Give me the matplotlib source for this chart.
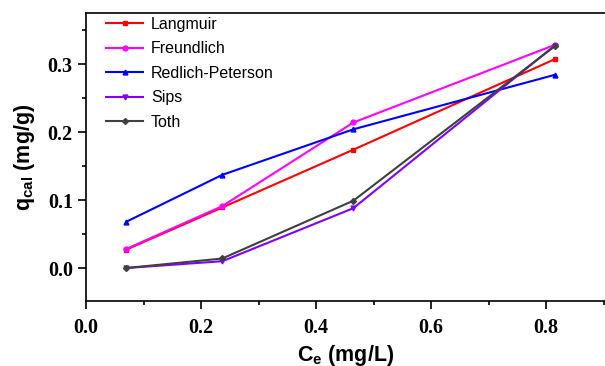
import matplotlib
matplotlib.use("Agg")
import matplotlib.pyplot as plt
from matplotlib.ticker import MultipleLocator, FormatStrFormatter

ce = [0.070, 0.237, 0.465, 0.815]
langmuir = [0.027, 0.089, 0.174, 0.307]
freundlich = [0.028, 0.091, 0.214, 0.328]
redlich = [0.068, 0.137, 0.204, 0.284]
sips = [0.000, 0.010, 0.088, 0.327]
toth = [0.000, 0.014, 0.099, 0.326]

series = [
    ("Langmuir", langmuir, "#ff0000", "s"),
    ("Freundlich", freundlich, "#ff00ff", "o"),
    ("Redlich-Peterson", redlich, "#0000ff", "^"),
    ("Sips", sips, "#8000ff", "v"),
    ("Toth", toth, "#404040", "D"),
]

plt.rcParams["font.family"] = "Liberation Serif"
plt.rcParams["font.weight"] = "bold"
plt.rcParams["xtick.labelsize"] = 14.5
plt.rcParams["ytick.labelsize"] = 14.5

fig = plt.figure(figsize=(6.05, 3.66), dpi=100)
ax = fig.add_axes([86/605, 65/366, 1 - 86/605, 288/366])

for name, vals, col, mk in series:
    ms = 3.5 if mk != "D" else 3
    ax.plot(ce, vals, color=col, marker=mk, markersize=ms, linewidth=1.5, label=name)

ax.set_xlim(0, 0.9026)
ax.set_ylim(-0.0485, 0.375)
ax.xaxis.set_major_locator(MultipleLocator(0.2))
ax.xaxis.set_minor_locator(MultipleLocator(0.1))
ax.yaxis.set_major_locator(MultipleLocator(0.1))
ax.yaxis.set_minor_locator(MultipleLocator(0.05))
ax.xaxis.set_major_formatter(FormatStrFormatter("%.1f"))
ax.yaxis.set_major_formatter(FormatStrFormatter("%.1f"))
ax.tick_params(which="both", direction="out", top=False, right=False, width=1.2)
ax.tick_params(which="major", length=5.5)
ax.tick_params(which="minor", length=3)
ax.tick_params(axis="x", which="major", pad=7)
ax.tick_params(axis="y", which="major", pad=4)

ax.spines["right"].set_visible(False)
for s in ["left", "bottom", "top"]:
    ax.spines[s].set_linewidth(1.2)

ax.set_xlabel(r"C$_\mathregular{e}$ (mg/L)", fontfamily="Liberation Sans",
              fontweight="bold", fontsize=15.5, labelpad=3)
ax.set_ylabel(r"q$_\mathregular{cal}$ (mg/g)", fontfamily="Liberation Sans",
              fontweight="bold", fontsize=15.5, labelpad=8)

leg = ax.legend(loc="upper left", frameon=False,
                prop={"family": "Liberation Sans", "size": 11.5, "weight": "normal"},
                handlelength=2.3, handletextpad=0.5, labelspacing=0.6, borderaxespad=0.0,
                bbox_to_anchor=(0.027, 1.01))

fig.savefig("out.png", dpi=100)
